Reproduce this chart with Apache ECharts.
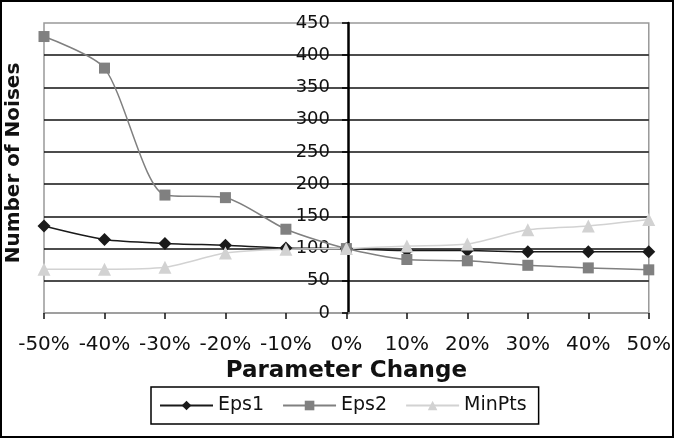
<!DOCTYPE html>
<html>
<head>
<meta charset="utf-8">
<script src="https://cdn.jsdelivr.net/npm/echarts@6/dist/echarts.min.js"></script>
<style>
  html, body { margin: 0; padding: 0; background: #fff; }
  #chart { width: 674px; height: 438px; }
</style>
</head>
<body>
<div id="chart"></div>
<script>
  // parameter change in percent
  var changes = [-50, -40, -30, -20, -10, 0, 10, 20, 30, 40, 50];
  var eps1 = [135, 114, 108, 105, 101, 100, 97, 97, 95, 95, 95];
  var eps2 = [429, 380, 183, 179, 130, 100, 83, 81, 74, 70, 67];
  var minPts = [68, 68, 71, 93, 99, 100, 104, 107, 129, 135, 145];

  function pairs(vals) {
    let out = [];
    for (let i = 0; i < changes.length; i++) {
      out.push([changes[i], vals[i]]);
    }
    return out;
  }

  let font = 'DejaVu Sans';
  let gridLeft = 44, gridRight = 22;
  let plotW = 674 - gridLeft - gridRight;
  let chart = echarts.init(document.getElementById('chart'));
  chart.setOption({
    animation: false,
    backgroundColor: '#fff',
    grid: {
      left: gridLeft,
      right: gridRight,
      top: 23,
      bottom: 125,
      show: true,
      borderColor: '#999',
      borderWidth: 1.5
    },
    xAxis: {
      type: 'value',
      min: -50,
      max: 50,
      interval: 10,
      name: 'Parameter Change',
      nameLocation: 'middle',
      nameGap: 45,
      nameTextStyle: { fontFamily: font, fontWeight: 'bold', fontSize: 23, color: '#111' },
      axisLine: { lineStyle: { color: '#999', width: 1.5 } },
      axisTick: { show: true, length: 6, lineStyle: { color: '#111', width: 1.5 } },
      axisLabel: {
        margin: 22,
        fontFamily: font,
        fontSize: 20,
        color: '#111',
        formatter: function (v) { return v + '%'; }
      },
      splitLine: { show: false }
    },
    yAxis: {
      type: 'value',
      min: 0,
      max: 450,
      interval: 50,
      // y axis sits at the 0% position, in the middle of the plot
      offset: -plotW / 2,
      axisLine: { show: true, onZero: false, lineStyle: { color: '#000', width: 2.5 } },
      axisTick: { show: true, length: 6, lineStyle: { color: '#000', width: 1.5 } },
      axisLabel: { margin: 18, fontFamily: font, fontSize: 18, color: '#111' },
      splitLine: {
        showMinLine: false,
        showMaxLine: false,
        lineStyle: { color: '#111', width: 1.6 }
      }
    },
    legend: {
      left: 151,
      top: 387,
      padding: [9, 12, 9, 8],
      itemGap: 18,
      itemWidth: 53,
      itemHeight: 12,
      borderColor: '#000',
      borderWidth: 1.5,
      textStyle: { fontFamily: font, fontSize: 19, color: '#111' },
      data: ['Eps1', 'Eps2', 'MinPts']
    },
    graphic: [
      {
        type: 'rect',
        shape: { x: 1, y: 1, width: 672, height: 436 },
        style: { fill: 'none', stroke: '#000', lineWidth: 2 }
      },
      {
        type: 'text',
        x: 14,
        y: 163,
        rotation: Math.PI / 2,
        style: {
          text: 'Number of Noises',
          fontFamily: font,
          fontWeight: 'bold',
          fontSize: 20,
          fill: '#111',
          align: 'center',
          verticalAlign: 'middle'
        }
      }
    ],
    series: [
      {
        name: 'Eps1',
        type: 'line',
        data: pairs(eps1),
        smooth: 0.25,
        symbol: 'diamond',
        symbolSize: 13,
        color: '#1a1a1a',
        lineStyle: { width: 1.5, color: '#1a1a1a' }
      },
      {
        name: 'Eps2',
        type: 'line',
        data: pairs(eps2),
        smooth: 0.25,
        symbol: 'rect',
        symbolSize: 11,
        color: '#808080',
        lineStyle: { width: 1.5, color: '#808080' }
      },
      {
        name: 'MinPts',
        type: 'line',
        data: pairs(minPts),
        smooth: 0.25,
        symbol: 'triangle',
        symbolSize: 13,
        color: '#d2d2d2',
        lineStyle: { width: 1.5, color: '#d2d2d2' }
      }
    ]
  });
</script>
</body>
</html>
